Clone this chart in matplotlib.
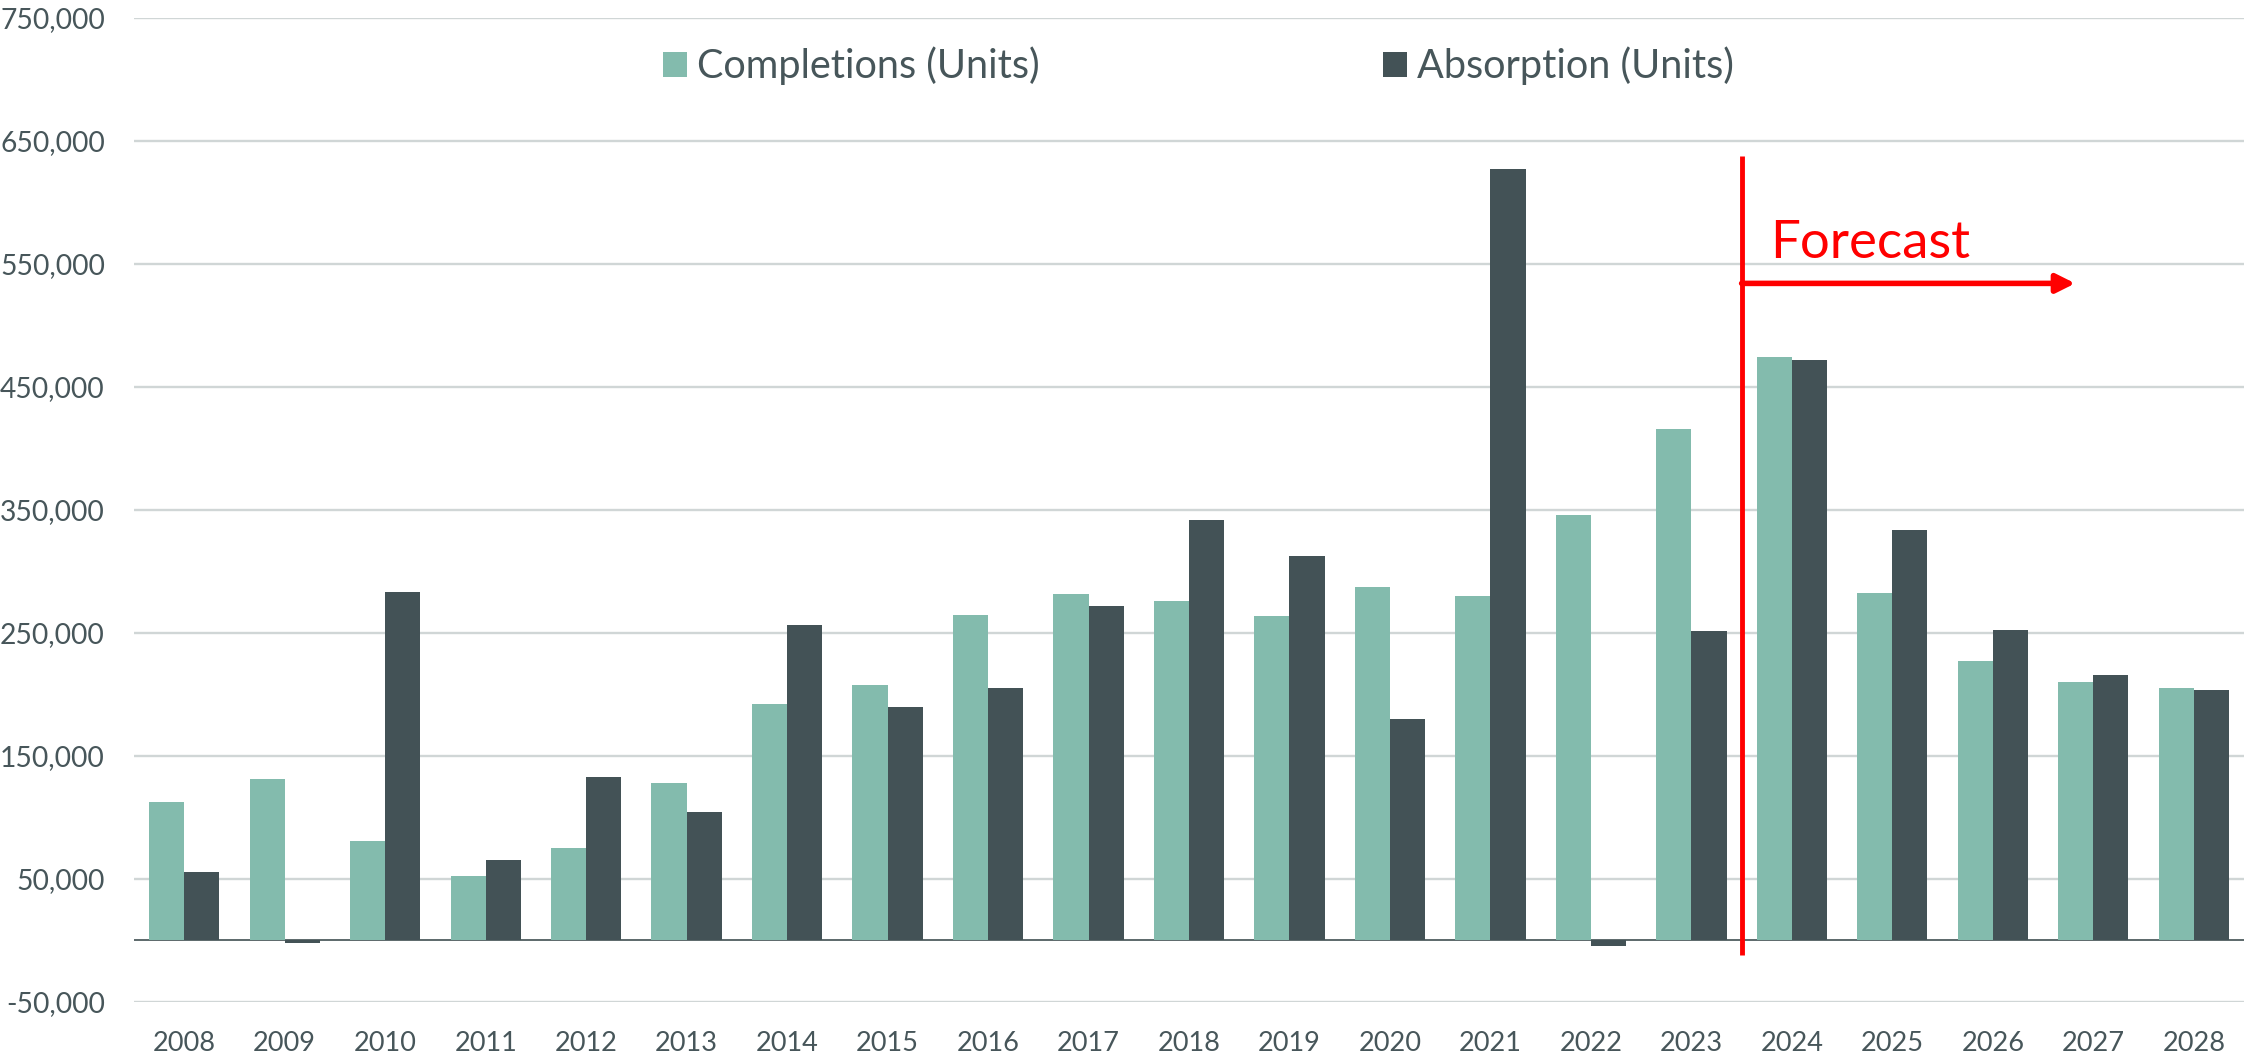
import matplotlib
matplotlib.use("Agg")
import matplotlib.pyplot as plt
import numpy as np
from matplotlib.patches import Patch
from matplotlib.ticker import FuncFormatter

plt.rcParams['font.family'] = ['Lato', 'DejaVu Sans']

years = [str(y) for y in range(2008, 2029)]
completions = [112800, 131600, 81200, 52800, 74800, 127800, 192500, 207800, 264900, 281200,
               276200, 264000, 287200, 280300, 346000, 416000, 474000, 282000, 227000, 209700, 205500]
absorption = [55400, -2300, 283200, 65800, 133000, 104600, 256200, 189600, 205500, 272200,
              341700, 312200, 180300, 626700, -4600, 251300, 471500, 333500, 252200, 215400, 203800]
yticks = list(range(-50000, 750001, 100000))

c_comp = '#83BBAD'
c_abs = '#435256'
c_text = '#47565A'
c_grid = '#D0D6D6'

W, H = 2246, 1060
fig = plt.figure(figsize=(W / 100, H / 100), dpi=100)
ax = fig.add_axes([134 / W, 1 - 1002 / H, (2244 - 134) / W, (1002 - 17.6) / H])

x = np.arange(len(years))
w = 0.35
ax.bar(x - w / 2, completions, w, color=c_comp, zorder=3, linewidth=0)
ax.bar(x + w / 2, absorption, w, color=c_abs, zorder=3, linewidth=0)

ax.set_xlim(-0.5, len(years) - 0.5)
ax.set_ylim(-50000, 750000)
ax.set_yticks(yticks)
ax.yaxis.set_major_formatter(FuncFormatter(lambda v, p: f"{int(v):,}"))
ax.set_xticks(x)
ax.set_xticklabels(years)
ax.grid(axis='y', color=c_grid, linewidth=1.7, zorder=0)
ax.axhline(0, color='#5C686A', linewidth=1.4, zorder=2)
for s in ax.spines.values():
    s.set_visible(False)
ax.tick_params(axis='both', length=0, colors=c_text)
ax.tick_params(axis='y', labelsize=20.3, pad=21)
ax.tick_params(axis='x', labelsize=19.5, pad=21)

# Forecast marker
fc_x = 15.5
ax.plot([fc_x, fc_x], [-11800, 637700], color='#FF0000', linewidth=3.5, zorder=5, solid_capstyle='butt')
ax.annotate('', xy=(18.82, 534000), xytext=(fc_x, 534000),
            arrowprops=dict(arrowstyle='-|>', color='#FF0000', lw=4, mutation_scale=28,
                            shrinkA=0, shrinkB=0), zorder=5)
ax.text(15.78, 555000, 'Forecast', color='#FF0000', fontsize=38, ha='left', va='baseline', zorder=5)

# Legend (two separate entries)
for label, col, xpos in [('Completions (Units)', c_comp, 663), ('Absorption (Units)', c_abs, 1383)]:
    leg = fig.legend(handles=[Patch(facecolor=col, edgecolor='none')], labels=[label],
                     loc='center left', bbox_to_anchor=(xpos / W, 1 - 66 / H),
                     frameon=False, fontsize=28.5, borderpad=0, borderaxespad=0,
                     handlelength=0.6, handleheight=0.6, handletextpad=0.26, labelcolor=c_text)

fig.savefig('out.png', dpi=100)
